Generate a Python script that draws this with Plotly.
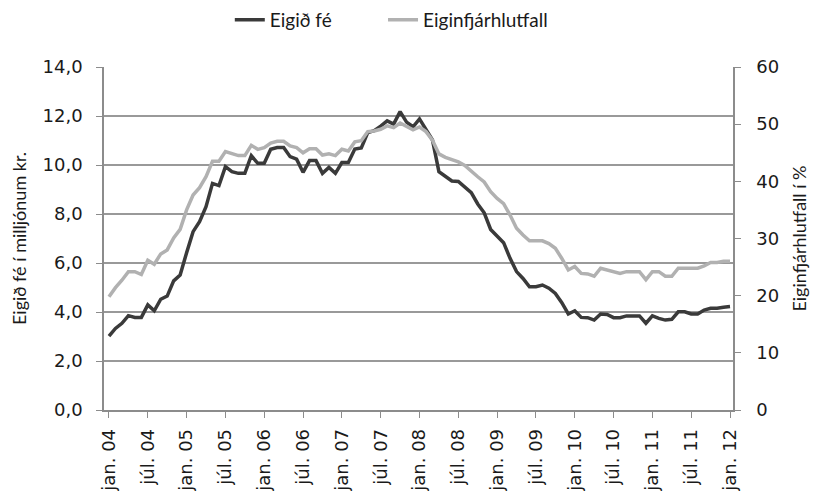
import plotly.graph_objects as go

# monthly, jan. 04 .. jan. 12 (97 months)
month_idx = list(range(97))

# Eigið fé í milljónum kr. (left axis)
eigid_fe = [
    3.02, 3.33, 3.54, 3.85, 3.78, 3.78, 4.29, 4.05, 4.52, 4.65, 5.27, 5.51,
    6.42, 7.28, 7.69, 8.30, 9.25, 9.16, 9.93, 9.73, 9.66, 9.66, 10.38, 10.07,
    10.07, 10.64, 10.71, 10.71, 10.34, 10.24, 9.70, 10.18, 10.18, 9.66, 9.90, 9.66,
    10.10, 10.10, 10.65, 10.70, 11.32, 11.40, 11.59, 11.80, 11.67, 12.18, 11.75, 11.56,
    11.88, 11.43, 11.02, 9.73, 9.52, 9.35, 9.33, 9.09, 8.87, 8.41, 8.05, 7.37,
    7.10, 6.83, 6.19, 5.65, 5.37, 5.03, 5.03, 5.10, 4.97, 4.76, 4.38, 3.92,
    4.05, 3.78, 3.77, 3.67, 3.92, 3.90, 3.77, 3.77, 3.84, 3.84, 3.84, 3.54,
    3.84, 3.74, 3.67, 3.70, 4.01, 4.01, 3.92, 3.92, 4.08, 4.15, 4.15, 4.19,
    4.22,
]

# Eiginfjárhlutfall í % (right axis)
eiginfjarhlutfall = [
    19.8, 21.4, 22.7, 24.2, 24.2, 23.7, 26.2, 25.5, 27.3, 28.0, 30.1, 31.6,
    35.0, 37.6, 38.9, 40.8, 43.5, 43.5, 45.2, 44.8, 44.5, 44.5, 46.3, 45.6,
    45.9, 46.7, 47.0, 47.0, 46.2, 45.9, 45.0, 45.7, 45.7, 44.6, 44.8, 44.5,
    45.6, 45.3, 46.9, 47.1, 48.7, 48.8, 49.1, 49.7, 49.4, 50.2, 49.6, 49.0,
    49.5, 48.7, 47.2, 44.8, 44.2, 43.8, 43.4, 42.8, 41.7, 40.8, 39.9, 38.2,
    37.0, 36.1, 34.1, 31.8, 30.6, 29.6, 29.6, 29.6, 29.1, 28.3, 26.5, 24.5,
    25.1, 23.9, 23.8, 23.4, 24.8, 24.5, 24.2, 23.9, 24.2, 24.2, 24.2, 22.8,
    24.2, 24.2, 23.4, 23.4, 24.8, 24.8, 24.8, 24.8, 25.2, 25.8, 25.8, 26.0,
    26.0,
]

tick_pos = list(range(0, 97, 6))
tick_labels = [
    "jan. 04", "júl. 04", "jan. 05", "júl. 05", "jan. 06", "júl. 06",
    "jan. 07", "júl. 07", "jan. 08", "júl. 08", "jan. 09", "júl. 09",
    "jan. 10", "júl. 10", "jan. 11", "júl. 11", "jan. 12",
]

text_font = "Lato"
tick_font = "DejaVu Sans"
axis_grey = "#8c8c8c"

fig = go.Figure()

fig.add_trace(go.Scatter(
    x=month_idx, y=eigid_fe, name="Eigið fé", mode="lines",
    line=dict(color="#3a3a3a", width=3.5), yaxis="y", legend="legend",
))
fig.add_trace(go.Scatter(
    x=month_idx, y=eiginfjarhlutfall, name="Eiginfjárhlutfall", mode="lines",
    line=dict(color="#b1b1b1", width=3.5), yaxis="y2", legend="legend2",
))

legend_style = dict(
    orientation="h", xanchor="left",
    yref="container", y=0.976, yanchor="middle",
    font=dict(size=19),
)

# page body has an 8px offset, so margins are set 8px smaller on left/top
fig.update_layout(
    width=818,
    height=494,
    margin=dict(l=96, r=93, t=59, b=92),
    paper_bgcolor="white",
    plot_bgcolor="white",
    separators=",.",
    font=dict(family=text_font, size=18, color="#1a1a1a"),
    showlegend=True,
    legend=dict(x=0.2, **legend_style),
    legend2=dict(x=0.4436, **legend_style),
    xaxis=dict(
        range=[-0.77, 96.46], automargin=False,
        tickmode="array", tickvals=tick_pos, ticktext=tick_labels,
        tickangle=-90, ticks="outside", ticklen=6, tickcolor=axis_grey,
        ticklabelstandoff=4,
        showline=True, linecolor=axis_grey, linewidth=1.5,
        showgrid=False, zeroline=False,
        tickfont=dict(family=tick_font, size=18),
    ),
    yaxis=dict(
        range=[0, 14], dtick=2, tickformat=".1f", automargin=False,
        title=dict(text="Eigið fé í milljónum kr.", font=dict(size=18)),
        ticks="outside", ticklen=6, tickcolor=axis_grey, ticklabelstandoff=10,
        tickfont=dict(family=tick_font, size=18),
        showline=True, linecolor=axis_grey, linewidth=1.5,
        showgrid=True, gridcolor="#999999", gridwidth=1.5, zeroline=False,
    ),
    yaxis2=dict(
        range=[0, 60], dtick=10, overlaying="y", side="right", automargin=False,
        title=dict(text="Eiginfjárhlutfall í %", font=dict(size=18)),
        ticks="outside", ticklen=6, tickcolor=axis_grey, ticklabelstandoff=12,
        tickfont=dict(family=tick_font, size=18),
        showline=True, linecolor=axis_grey, linewidth=1.5,
        showgrid=False, zeroline=False,
    ),
)

fig.write_html("out.html")
